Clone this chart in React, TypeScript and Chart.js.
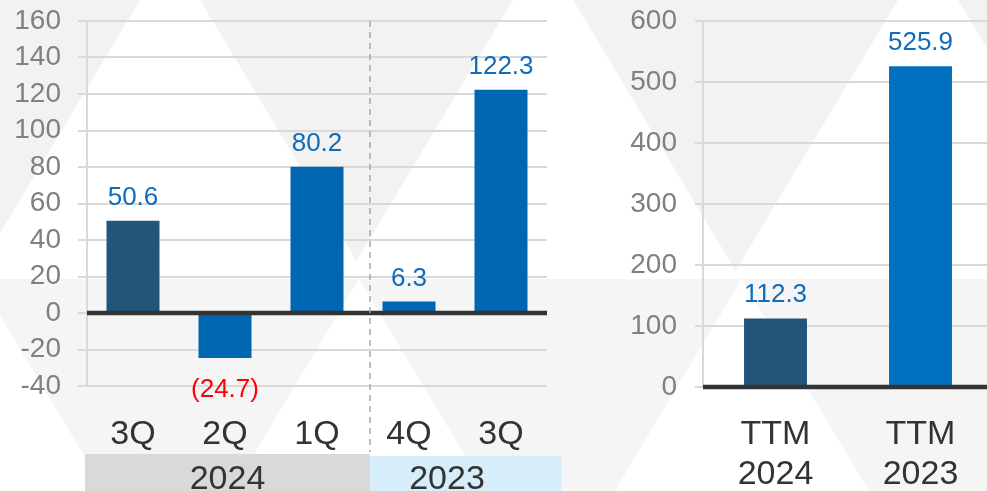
import React, { useEffect, useRef } from 'react';
import { Chart, registerables } from 'chart.js';

Chart.register(...registerables);

// ---------- data ----------
const quarterLabels = ['3Q', '2Q', '1Q', '4Q', '3Q'];
const quarterValues = [50.6, -24.7, 80.2, 6.3, 122.3];
const yearGroups = ['2024', '2023'];
const yearGroupSpans = [3, 2];
const quarterTickMin = -40;
const quarterTickMax = 160;
const quarterTickStep = 20;

const ttmLabels = [['TTM', '2024'], ['TTM', '2023']];
const ttmValues = [112.3, 525.9];
const ttmTickMin = 0;
const ttmTickMax = 600;
const ttmTickStep = 100;

// ---------- styles ----------
const NAVY = '#22557a';
const BLUE = '#0066b0';
const BRIGHT = '#0070c0';
const quarterColors = [NAVY, BLUE, BLUE, BLUE, BLUE];
const ttmColors = [NAVY, BRIGHT];
const groupFills = ['#d9d9d9', '#d5eef9'];
const FONT = "'Liberation Sans', Arial, sans-serif";
const LABEL_BLUE = '#0f6cbd';
const GRID = '#d9d9d9';

const W = 987;
const H = 491;
const LEFT_W = 590;
const RIGHT_W = 403;
const TOP_PAD = 21;

Chart.defaults.font.family = FONT;

function drawBackground(ctx: CanvasRenderingContext2D, offsetX: number, w: number, h: number) {
  const band = 279;
  const s = 0.6;
  ctx.save();
  ctx.translate(-offsetX, 0);
  ctx.fillStyle = '#f2f2f2';
  ctx.fillRect(offsetX, 0, w, band);
  ctx.fillStyle = '#f5f5f5';
  ctx.fillRect(offsetX, band, w, h - band);
  const tri = (ax: number, ay: number, yb: number) => {
    ctx.beginPath();
    ctx.moveTo(ax, ay);
    ctx.lineTo(ax - s * (yb - ay), yb);
    ctx.lineTo(ax + s * (yb - ay), yb);
    ctx.closePath();
    ctx.fill();
  };
  ctx.fillStyle = '#ffffff';
  ctx.save();
  ctx.beginPath();
  ctx.rect(offsetX, 0, w, band);
  ctx.clip();
  [170, 543, 928].forEach((ax) => tri(ax, -50, band + 5));
  ctx.restore();
  ctx.save();
  ctx.beginPath();
  ctx.rect(offsetX, band, w, h - band);
  ctx.clip();
  [-22, 359, 742].forEach((ax) => tri(ax, band, h + 5));
  ctx.restore();
  ctx.restore();
}

function fmt(v: number) {
  return v < 0 ? `(${Math.abs(v).toFixed(1)})` : v.toFixed(1);
}

function drawZeroAndLabels(chart: any) {
  const ctx: CanvasRenderingContext2D = chart.ctx;
  const area = chart.chartArea;
  const y0 = chart.scales.y.getPixelForValue(0);
  ctx.save();
  ctx.strokeStyle = '#333333';
  ctx.lineWidth = 4.5;
  ctx.beginPath();
  ctx.moveTo(area.left, y0);
  ctx.lineTo(area.right, y0);
  ctx.stroke();

  const meta = chart.getDatasetMeta(0);
  const values = chart.data.datasets[0].data as number[];
  ctx.font = `26px ${FONT}`;
  ctx.textAlign = 'center';
  ctx.textBaseline = 'alphabetic';
  meta.data.forEach((el: any, i: number) => {
    const v = values[i];
    if (v < 0) {
      ctx.fillStyle = '#ff0000';
      ctx.fillText(fmt(v), el.x, el.y + 39);
    } else {
      ctx.fillStyle = LABEL_BLUE;
      ctx.fillText(fmt(v), el.x, el.y - 16);
    }
  });
  ctx.restore();
}

function fitY(width: number) {
  return (s: any) => {
    s.width = width;
    s.paddingTop = 0;
    s.paddingBottom = 0;
  };
}

function LeftChart() {
  const ref = useRef<HTMLCanvasElement>(null);
  useEffect(() => {
    if (!ref.current) return;
    const chart = new Chart(ref.current, {
      type: 'bar',
      data: {
        labels: quarterLabels,
        datasets: [
          {
            data: quarterValues,
            backgroundColor: quarterColors,
            barPercentage: 0.576,
            categoryPercentage: 1,
          },
        ],
      },
      options: {
        animation: false,
        responsive: false,
        maintainAspectRatio: false,
        layout: { padding: { top: TOP_PAD, right: 43, left: 0, bottom: 0 } },
        plugins: { legend: { display: false }, tooltip: { enabled: false } },
        scales: {
          x: {
            grid: { display: false },
            border: { display: false },
            ticks: {
              padding: 21,
              color: '#333333',
              font: { size: 34, lineHeight: '40px' },
              maxRotation: 0,
              autoSkip: false,
            },
            afterFit: (s: any) => {
              s.height = 105;
            },
          },
          y: {
            min: quarterTickMin,
            max: quarterTickMax,
            ticks: {
              stepSize: quarterTickStep,
              autoSkip: false,
              padding: 17,
              color: '#808080',
              font: { size: 28 },
            },
            grid: { color: GRID, lineWidth: 2, tickLength: 9, tickColor: GRID, tickWidth: 2 },
            border: { color: GRID, width: 2 },
            afterFit: fitY(87),
          },
        },
      },
      plugins: [
        {
          id: 'bg',
          beforeDraw: (c: any) => drawBackground(c.ctx, 0, c.width, c.height),
        },
        {
          id: 'deco',
          afterDatasetsDraw: (c: any) => {
            drawZeroAndLabels(c);
          },
          afterDraw: (c: any) => {
            const ctx: CanvasRenderingContext2D = c.ctx;
            const xs = c.scales.x;
            const area = c.chartArea;
            const first = yearGroupSpans[0];
            const divX = (xs.getPixelForValue(first - 1) + xs.getPixelForValue(first)) / 2 + 7;
            ctx.save();
            ctx.strokeStyle = '#a6a6a6';
            ctx.lineWidth = 1.5;
            ctx.setLineDash([6, 5]);
            ctx.beginPath();
            ctx.moveTo(divX, area.top);
            ctx.lineTo(divX, 452);
            ctx.stroke();
            ctx.setLineDash([]);
            const boxes = [
              { x0: area.left - 2, x1: divX, y0: 454 },
              { x0: divX, x1: area.right + 14, y0: 456 },
            ];
            let start = 0;
            yearGroups.forEach((g, gi) => {
              const b = boxes[gi];
              ctx.fillStyle = groupFills[gi];
              ctx.fillRect(b.x0, b.y0, b.x1 - b.x0, c.height - b.y0);
              const span = yearGroupSpans[gi];
              const cx =
                gi === 0
                  ? (b.x0 + b.x1) / 2
                  : (xs.getPixelForValue(start) + xs.getPixelForValue(start + span - 1)) / 2 - 8;
              ctx.fillStyle = '#333333';
              ctx.font = `34px ${FONT}`;
              ctx.textAlign = 'center';
              ctx.textBaseline = 'alphabetic';
              ctx.fillText(g, cx, 489);
              start += span;
            });
            ctx.restore();
          },
        },
      ],
    } as any);
    return () => chart.destroy();
  }, []);
  return (
    <canvas
      ref={ref}
      width={LEFT_W}
      height={H}
      style={{ position: 'absolute', left: 0, top: 0, width: LEFT_W, height: H }}
    />
  );
}

function RightChart() {
  const ref = useRef<HTMLCanvasElement>(null);
  useEffect(() => {
    if (!ref.current) return;
    const chart = new Chart(ref.current, {
      type: 'bar',
      data: {
        labels: ttmLabels,
        datasets: [
          {
            data: ttmValues,
            backgroundColor: ttmColors,
            barPercentage: 0.434,
            categoryPercentage: 1,
          },
        ],
      },
      options: {
        animation: false,
        responsive: false,
        maintainAspectRatio: false,
        layout: { padding: { top: TOP_PAD, right: 0, left: 0, bottom: 0 } },
        plugins: { legend: { display: false }, tooltip: { enabled: false } },
        scales: {
          x: {
            grid: { display: false },
            border: { display: false },
            ticks: {
              padding: 20,
              color: '#333333',
              font: { size: 34, lineHeight: '40px' },
              maxRotation: 0,
              autoSkip: false,
            },
            afterFit: (s: any) => {
              s.height = 104;
            },
          },
          y: {
            min: ttmTickMin,
            max: ttmTickMax,
            ticks: {
              stepSize: ttmTickStep,
              autoSkip: false,
              padding: 18,
              color: '#808080',
              font: { size: 28 },
            },
            grid: { color: GRID, lineWidth: 2, tickLength: 8, tickColor: GRID, tickWidth: 2 },
            border: { color: GRID, width: 2 },
            afterFit: fitY(113),
          },
        },
      },
      plugins: [
        {
          id: 'bg',
          beforeDraw: (c: any) => drawBackground(c.ctx, LEFT_W, c.width, c.height),
        },
        {
          id: 'deco',
          afterDatasetsDraw: (c: any) => drawZeroAndLabels(c),
        },
      ],
    } as any);
    return () => chart.destroy();
  }, []);
  return (
    <canvas
      ref={ref}
      width={RIGHT_W}
      height={H}
      style={{ position: 'absolute', left: LEFT_W, top: 0, width: RIGHT_W, height: H }}
    />
  );
}

export default function App() {
  return (
    <div
      style={{
        position: 'fixed',
        left: 0,
        top: 0,
        width: W,
        height: H,
        overflow: 'hidden',
        background: '#ffffff',
      }}
    >
      <LeftChart />
      <RightChart />
    </div>
  );
}
